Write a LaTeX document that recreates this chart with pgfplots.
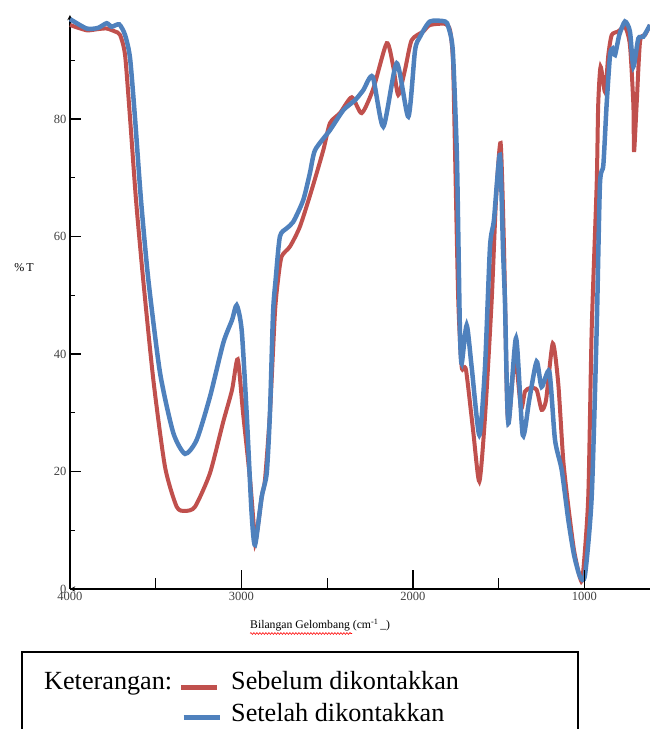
\documentclass[border=0pt]{standalone}
\usepackage{fontspec}
\setmainfont{Liberation Serif}
\usepackage{pgfplots}
\pgfplotsset{compat=1.18}
\usetikzlibrary{decorations.pathmorphing}
\definecolor{cred}{HTML}{C0504D}
\definecolor{cblue}{HTML}{4F81BD}
\begin{document}
\begin{tikzpicture}[x=1pt,y=1pt]
\path[use as bounding box] (0,0) rectangle (650,729);
\pgfplotsset{common/.style={at={(70pt,140pt)}, anchor=south west, scale only axis,
  width=580pt, height=574pt, xmin=618, xmax=4000, ymin=0, ymax=97.7, x dir=reverse,
  clip=false,
  axis line style={-, line width=1.3pt, black},
  every tick/.style={black, line width=1.2pt},
  /pgf/number format/assume math mode=true,
  /pgf/number format/1000 sep={},
  ticklabel style={font=\fontsize{12.5}{13}\selectfont, text=black!75}}}
\begin{axis}[common, axis x line=none, axis y line=left, tick align=inside,
  ytick={0,20,40,60,80}, minor ytick={10,30,50,70,90},
  major tick length=11pt, minor tick length=5pt]
\addplot[cred, line width=4pt, smooth, tension=0.4] coordinates {
(4000,96.0)(3903,95.1)(3837,95.3)(3786,95.4)(3738,94.9)(3708,94.3)(3679,90.9)
(3650,80.2)(3615,66.2)(3573,52.6)(3514,35.6)(3446,20.8)(3378,14.0)(3329,13.3)
(3271,14.0)(3184,19.7)(3108,28.3)(3055,33.9)(3022,39.1)(2991,30.0)(2950,18.6)
(2925,9.5)(2918,8.0)(2882,15.7)(2863,18.6)(2834,30.0)(2805,47.0)(2787,52.6)
(2766,56.6)(2717,58.3)(2659,61.7)(2591,67.9)(2523,74.7)(2484,79.3)(2426,81.0)
(2357,83.7)(2299,81.0)(2231,85.2)(2153,92.9)(2115,88.9)(2086,84.1)(2047,88.3)
(2008,93.4)(1940,94.9)(1901,96.0)(1813,96.2)(1784,95.1)(1767,90.0)(1755,74.7)
(1736,49.2)(1716,37.8)(1691,37.3)(1648,26.6)(1613,18.3)(1580,29.3)(1541,49.2)
(1516,66.2)(1489,75.9)(1469,57.7)(1452,32.2)(1440,28.8)(1405,39.5)(1370,30.8)
(1347,33.6)(1318,34.2)(1279,33.9)(1250,30.5)(1224,32.2)(1185,41.8)(1153,35.0)
(1124,22.0)(1094,14.0)(1061,6.6)(1026,1.9)(1010,2.2)(978,15.7)(958,44.1)
(929,68.8)(920,82.4)(906,88.9)(880,84.6)(861,90.9)(841,94.3)(803,94.9)
(764,95.7)(735,92.6)(715,82.4)(711,74.4)(696,82.4)(676,93.2)(647,94.3)(618,96.0)};
\addplot[cblue, line width=4.5pt, smooth, tension=0.4] coordinates {
(4000,97.0)(3903,95.4)(3837,95.5)(3786,96.3)(3757,95.7)(3713,96.1)(3679,94.3)
(3650,90.4)(3621,80.2)(3586,66.2)(3543,52.6)(3475,36.8)(3398,26.6)(3329,23.0)
(3261,25.4)(3184,32.7)(3106,41.9)(3055,45.8)(3028,48.3)(2999,44.1)(2970,30.0)
(2941,12.9)(2921,7.5)(2882,15.7)(2853,19.7)(2834,30.0)(2816,47.0)(2801,52.6)
(2776,60.0)(2736,61.4)(2698,62.5)(2640,66.2)(2601,70.8)(2571,74.7)(2484,78.1)
(2406,81.5)(2338,83.2)(2290,84.9)(2235,87.2)(2173,78.7)(2095,89.5)(2027,80.4)
(1988,91.7)(1959,94.0)(1901,96.6)(1813,96.6)(1794,95.7)(1768,91.7)(1745,74.7)
(1736,60.6)(1726,43.6)(1716,38.4)(1687,44.9)(1658,37.8)(1613,26.2)(1580,37.8)
(1551,58.2)(1528,62.8)(1493,73.9)(1475,57.7)(1464,49.2)(1444,28.2)(1399,42.7)
(1360,26.2)(1322,32.2)(1279,38.7)(1250,34.4)(1205,37.0)(1172,25.4)(1133,20.3)
(1094,11.7)(1061,5.8)(1026,2.1)(997,2.4)(958,15.7)(929,44.1)(910,68.8)
(890,72.2)(871,82.4)(851,90.9)(836,92.0)(822,90.9)(797,94.3)(764,96.6)
(735,94.9)(715,88.9)(686,93.7)(657,94.0)(618,96.0)};
\end{axis}
\begin{axis}[common, axis y line=none, axis x line=bottom, tick align=inside,
  xtick={1000,2000,3000,4000}, minor xtick={1500,2500,3500},
  major tick length=19pt, minor tick length=11pt]
\end{axis}
\node[anchor=base west, inner sep=0, font=\fontsize{11.7}{13}\selectfont] at (250,100) {Bilangan Gelombang (cm\textsuperscript{-1}\,\_)};
\draw[red, line width=0.6pt, decorate, decoration={snake, amplitude=0.9pt, segment length=3pt}] (250,95.5) -- (352,95.5);
\node[inner sep=0, font=\fontsize{12}{13}\selectfont] at (24,461) {\%\,T};
\draw[line width=1.3pt] (22,-10) rectangle (578,77);
\node[anchor=base west, inner sep=0, font=\fontsize{26.2}{30}\selectfont] at (44,39) {Keterangan:};
\draw[cred, line width=5pt] (181,41.5) -- (217,41.5);
\node[anchor=base west, inner sep=0, font=\fontsize{26.2}{30}\selectfont] at (231,39) {Sebelum dikontakkan};
\draw[cblue, line width=5pt] (183.5,11) -- (220,11);
\node[anchor=base west, inner sep=0, font=\fontsize{26.2}{30}\selectfont] at (231,7) {Setelah dikontakkan};
\end{tikzpicture}
\end{document}
